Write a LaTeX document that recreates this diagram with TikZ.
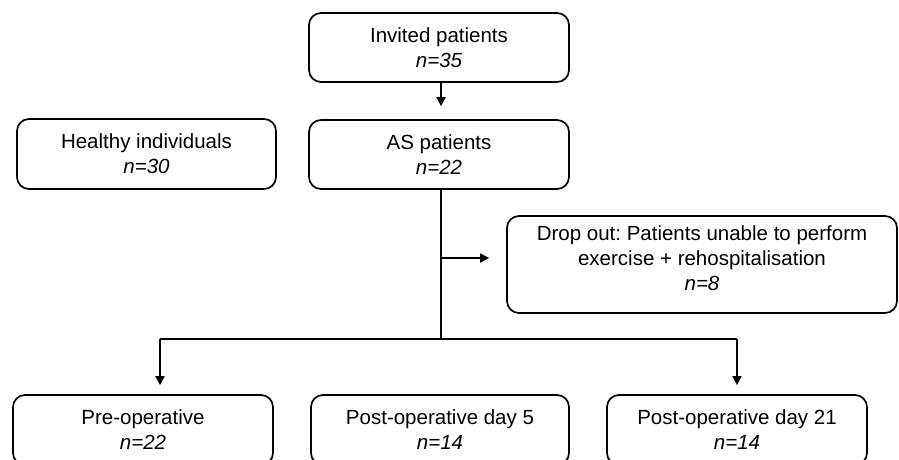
\documentclass[tikz,border=0pt]{standalone}
\usepackage{fontspec}
\setmainfont{Liberation Sans}
\frenchspacing
\usetikzlibrary{arrows.meta}
\begin{document}
\begin{tikzpicture}[x=1pt,y=-1pt,
  box/.style={draw=black, line width=1.7pt, rounded corners=12pt, align=center,
    inner sep=0pt, font=\fontsize{20.5}{25}\selectfont},
  conn/.style={line width=1.7pt},
  arr/.style={conn, -{Triangle[length=9pt,width=9pt]}}]
\useasboundingbox (0,0) rectangle (899,459);
\clip (0,0) rectangle (899,459);
\node[box, minimum width=260pt, minimum height=69pt] (inv) at (439,47.5) {Invited patients\\\textit{n=35}};
\node[box, minimum width=260pt, minimum height=69pt] (as) at (439,154.5) {AS patients\\\textit{n=22}};
\node[box, minimum width=259pt, minimum height=70pt] (healthy) at (146.5,154) {Healthy individuals\\\textit{n=30}};
\node[box, minimum width=390pt, minimum height=97pt] (drop) at (702,264.5) {Drop out: Patients unable to perform\\exercise + rehospitalisation\\\textit{n=8}\\[-12pt]};
\node[box, minimum width=260pt, minimum height=70pt] (pre) at (143,430) {Pre-operative\\\textit{n=22}};
\node[box, minimum width=258pt, minimum height=70pt] (post5) at (440,430) {Post-operative day 5\\\textit{n=14}};
\node[box, minimum width=260pt, minimum height=70pt] (post21) at (737,430) {Post-operative day 21\\\textit{n=14}};
\coordinate (split) at (441,339);
\coordinate (jd) at (441,258);
\coordinate (lft) at (160,339);
\coordinate (rgt) at (737,339);
\draw[arr, shorten >=13pt] (inv.south -| split) -- (as.north -| split);
\draw[conn] (as.south -| split) -- (split);
\draw[arr, shorten >=17pt] (jd) -- (jd -| drop.west);
\draw[conn] (lft) -- (rgt);
\draw[arr, shorten >=9pt] (lft) -- (lft |- pre.north);
\draw[arr, shorten >=9pt] (rgt) -- (rgt |- post21.north);
\end{tikzpicture}
\end{document}
